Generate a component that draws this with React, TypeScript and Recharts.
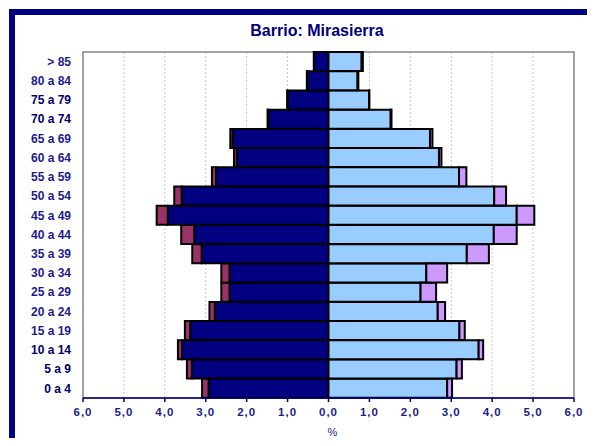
import React from 'react';
import { BarChart, Bar, XAxis, YAxis, CartesianGrid, ReferenceArea } from 'recharts';

// youngest first; the Y axis is reversed so "0 a 4" sits at the bottom
const ages = ['0 a 4', '5 a 9', '10 a 14', '15 a 19', '20 a 24', '25 a 29', '30 a 34', '35 a 39', '40 a 44', '45 a 49', '50 a 54', '55 a 59', '60 a 64', '65 a 69', '70 a 74', '75 a 79', '80 a 84', '> 85'];
const menSpanish = [2.93, 3.34, 3.58, 3.38, 2.78, 2.42, 2.42, 3.1, 3.28, 3.93, 3.59, 2.75, 2.24, 2.34, 1.47, 1.0, 0.52, 0.35];
const menForeign = [0.16, 0.12, 0.1, 0.13, 0.13, 0.2, 0.2, 0.23, 0.32, 0.27, 0.18, 0.1, 0.07, 0.06, 0.02, 0.01, 0.01, 0.01];
const womenSpanish = [2.9, 3.13, 3.67, 3.2, 2.67, 2.25, 2.39, 3.38, 4.04, 4.6, 4.05, 3.19, 2.7, 2.48, 1.52, 0.99, 0.71, 0.81];
const womenForeign = [0.12, 0.13, 0.11, 0.13, 0.18, 0.38, 0.51, 0.54, 0.56, 0.43, 0.29, 0.18, 0.06, 0.06, 0.02, 0.01, 0.02, 0.03];
const xTicks = [-6, -5, -4, -3, -2, -1, 0, 1, 2, 3, 4, 5, 6];

const NAVY = '#000080';
const FONT = "Arial, 'Liberation Sans', sans-serif";
const strongLabels = ['75 a 79', '70 a 74', '10 a 14', '5 a 9', '0 a 4'];

const data = ages.map((age, i) => ({
  age,
  menSpanish: -menSpanish[i],
  menForeign: -menForeign[i],
  womenSpanish: womenSpanish[i],
  womenForeign: womenForeign[i],
}));

const fmt = (v: number) => Math.abs(v).toFixed(1).replace('.', ',');

const AgeTick = (props: any) => {
  const { x, y, payload } = props;
  const strong = strongLabels.includes(payload.value);
  return (
    <text
      x={x}
      y={y}
      dy="0.35em"
      textAnchor="end"
      fontFamily={FONT}
      fontSize={12}
      fontWeight="bold"
      fill={strong ? '#00006a' : '#1c1c8c'}
    >
      {payload.value}
    </text>
  );
};

export default function App() {
  return (
    <div style={{ position: 'relative', width: 595, height: 446, margin: -8, overflow: 'hidden', background: '#fff' }}>
      <div
        style={{
          position: 'absolute',
          left: 9,
          top: 9,
          width: 700,
          height: 600,
          borderTop: `6px solid ${NAVY}`,
          borderLeft: `6px solid ${NAVY}`,
        }}
      />
      <div
        style={{
          position: 'absolute',
          left: 0,
          width: 634,
          top: 22,
          textAlign: 'center',
          fontFamily: FONT,
          fontWeight: 'bold',
          fontSize: 16,
          color: NAVY,
        }}
      >
        Barrio: Mirasierra
      </div>
      <div style={{ position: 'absolute', left: 0, top: 0 }}>
        <BarChart
          width={595}
          height={446}
          data={data}
          layout="vertical"
          stackOffset="sign"
          barCategoryGap={0}
          margin={{ top: 52, right: 21, bottom: 18, left: 0 }}
        >
          <CartesianGrid horizontal={false} stroke="#c8c8c8" strokeDasharray="2 2" />
          <ReferenceArea x1={-6} x2={6} fill="none" stroke="#888888" strokeWidth={1.5} ifOverflow="visible" />
          <XAxis
            type="number"
            domain={[-6, 6]}
            ticks={xTicks}
            tickFormatter={fmt}
            height={30}
            axisLine={{ stroke: NAVY, strokeWidth: 1.5 }}
            tickLine={{ stroke: NAVY, strokeWidth: 1.5 }}
            tickSize={4}
            tickMargin={6}
            tick={{ fill: '#1c1c8c', fontSize: 11.5, fontWeight: 'bold', fontFamily: FONT, letterSpacing: 1 }}
            label={{ value: '%', position: 'bottom', offset: 0, dx: 4, fill: '#1c1c8c', fontSize: 11, fontFamily: FONT }}
          />
          <YAxis
            type="category"
            dataKey="age"
            reversed
            width={83}
            axisLine={false}
            tickLine={false}
            tickSize={6}
            tickMargin={6}
            interval={0}
            tick={<AgeTick />}
          />
          <Bar dataKey="menSpanish" stackId="a" fill={NAVY} stroke="#000" strokeWidth={2} isAnimationActive={false} />
          <Bar dataKey="menForeign" stackId="a" fill="#993366" stroke="#000" strokeWidth={2} isAnimationActive={false} />
          <Bar dataKey="womenSpanish" stackId="a" fill="#99ccff" stroke="#000" strokeWidth={2} isAnimationActive={false} />
          <Bar dataKey="womenForeign" stackId="a" fill="#cc99ff" stroke="#000" strokeWidth={2} isAnimationActive={false} />
        </BarChart>
      </div>
    </div>
  );
}
